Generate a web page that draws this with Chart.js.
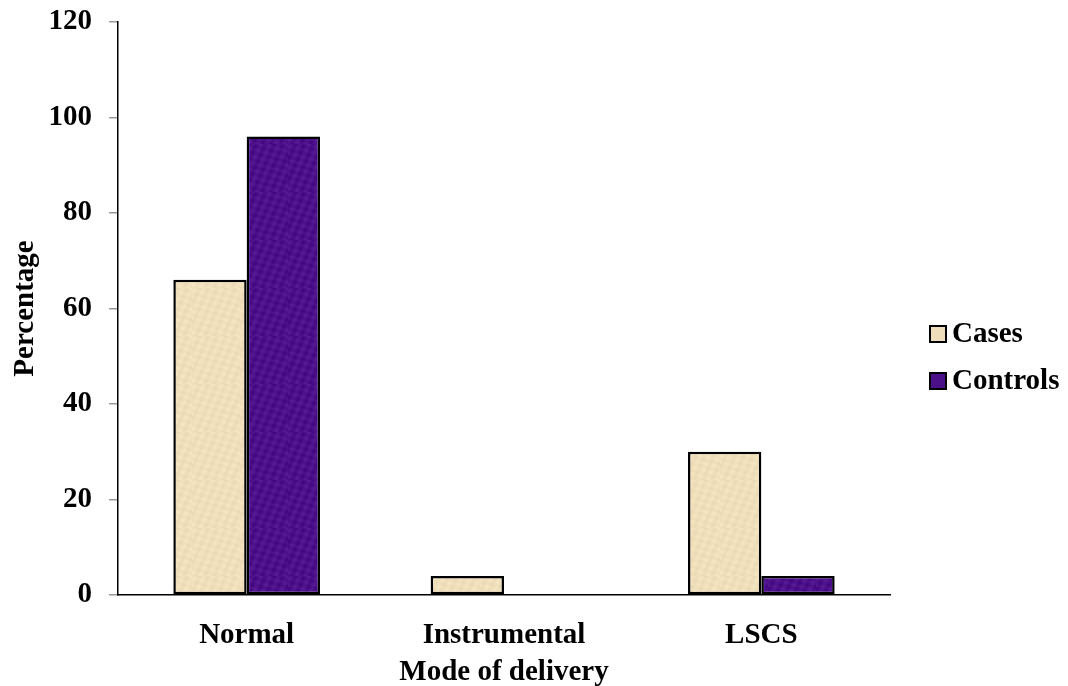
<!DOCTYPE html>
<html>
<head>
<meta charset="utf-8">
<script src="https://cdn.jsdelivr.net/npm/chart.js@4/dist/chart.umd.min.js"></script>
<style>
  html, body { margin: 0; padding: 0; background: #ffffff; }
  #wrap { width: 1068px; height: 686px; position: relative; }
</style>
</head>
<body>
<div id="wrap"><canvas id="chart" width="1068" height="686"></canvas></div>
<script>
// Mode of delivery, percentage of cases and controls
const categories = ['Normal', 'Instrumental', 'LSCS'];
const casesValues = [66, 4, 30];
const controlsValues = [96, 0, 4];
const seriesNames = ['Cases', 'Controls'];
const yTicks = [0, 20, 40, 60, 80, 100, 120];

const FONT = '"Liberation Serif", "Times New Roman", serif';
const fontBold = { family: FONT, size: 29, weight: 'bold' };

// Mottled fill patterns for the two series
function makePattern(base, spread) {
  const c = document.createElement('canvas');
  c.width = 48; c.height = 48;
  const g = c.getContext('2d');
  const img = g.createImageData(48, 48);
  for (let y = 0; y < 48; y++) {
    for (let x = 0; x < 48; x++) {
      const v = Math.sin(x * 0.7 + y * 0.31) * 0.5 + Math.sin(y * 0.9 - x * 0.23) * 0.35 + Math.sin((x + y) * 1.7) * 0.15;
      const i = (y * 48 + x) * 4;
      img.data[i] = Math.max(0, Math.min(255, base[0] + v * spread));
      img.data[i + 1] = Math.max(0, Math.min(255, base[1] + v * spread));
      img.data[i + 2] = Math.max(0, Math.min(255, base[2] + v * spread));
      img.data[i + 3] = 255;
    }
  }
  g.putImageData(img, 0, 0);
  return g.createPattern(c, 'repeat');
}
const casesFill = makePattern([239, 224, 187], 7);
const controlsFill = makePattern([75, 16, 138], 12);

// Legend drawn at the right of the plot
const sideLegend = {
  id: 'sideLegend',
  afterDraw(chart, args, opts) {
    const ctx = chart.ctx;
    ctx.save();
    ctx.font = 'bold 29px ' + FONT;
    ctx.textBaseline = 'middle';
    ctx.textAlign = 'left';
    chart.data.datasets.forEach((ds, i) => {
      const y = opts.y + i * opts.gap;
      ctx.fillStyle = ds.legendColor;
      ctx.fillRect(opts.x, y - 8, 16, 16);
      ctx.lineWidth = 2;
      ctx.strokeStyle = '#000';
      ctx.strokeRect(opts.x, y - 8, 16, 16);
      ctx.fillStyle = '#000';
      ctx.fillText(ds.label, opts.x + 22, y + 1);
    });
    ctx.restore();
  }
};

new Chart(document.getElementById('chart'), {
  type: 'bar',
  data: {
    labels: categories,
    datasets: [
      { label: seriesNames[0], data: casesValues, backgroundColor: casesFill, legendColor: '#EEDFBA', borderColor: '#000', borderWidth: 2.5, borderSkipped: false },
      { label: seriesNames[1], data: controlsValues, backgroundColor: controlsFill, legendColor: '#4B1088', borderColor: '#000', borderWidth: 2.5, borderSkipped: false }
    ]
  },
  options: {
    responsive: false,
    animation: false,
    devicePixelRatio: 1,
    layout: { padding: { top: 22, right: 178, left: 0, bottom: 0 } },
    datasets: { bar: { categoryPercentage: 0.57, barPercentage: 1.0 } },
    plugins: {
      legend: { display: false },
      tooltip: { enabled: false },
      sideLegend: { x: 930, y: 334, gap: 47 }
    },
    scales: {
      x: {
        grid: { display: false, drawTicks: false },
        border: { display: true, color: '#000', width: 1.5 },
        ticks: { color: '#000', font: fontBold, padding: 23 },
        title: { display: true, text: 'Mode of delivery', color: '#000', font: fontBold, padding: { top: 9, bottom: -4 } },
        afterFit(scale) { scale.height = 91; }
      },
      y: {
        min: 0, max: 120,
        afterBuildTicks(scale) { scale.ticks = yTicks.map(v => ({ value: v })); },
        grid: { display: true, drawOnChartArea: false, drawTicks: true, tickLength: 9, color: '#999', lineWidth: 1.5 },
        border: { display: true, color: '#000', width: 1.5 },
        ticks: { color: '#000', font: fontBold, padding: 17 },
        title: { display: true, text: 'Percentage', color: '#000', font: fontBold, padding: { top: 8, bottom: 0 } },
        afterFit(scale) { scale.width = 118; scale.paddingTop = 0; scale.paddingBottom = 0; }
      }
    }
  },
  plugins: [sideLegend]
});
</script>
</body>
</html>
